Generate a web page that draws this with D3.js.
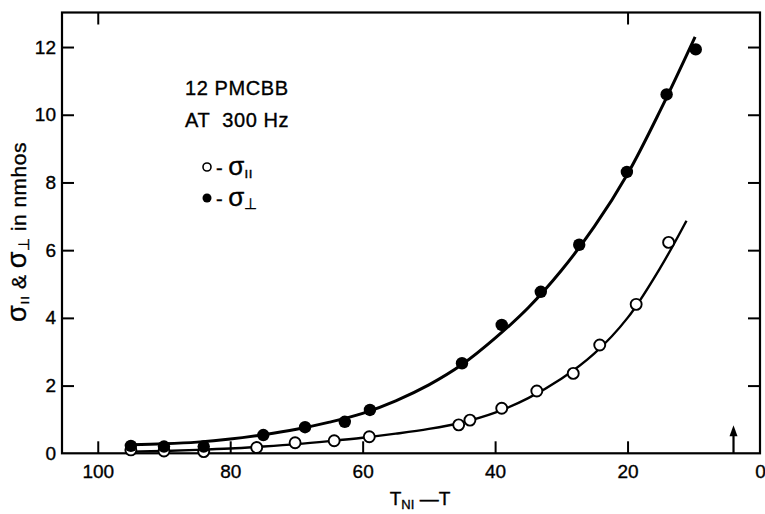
<!DOCTYPE html>
<html>
<head>
<meta charset="utf-8">
<script src="https://cdn.jsdelivr.net/npm/d3@7"></script>
<style>
  html, body { margin: 0; padding: 0; background: #fff; }
  svg text { font-family: "Liberation Sans", Arial, sans-serif; fill: #000; stroke: #000; stroke-width: 0.35px; }
</style>
</head>
<body>
<svg id="chart" width="765" height="514"></svg>
<script>
// ---- data ----
const xTicks = [100, 80, 60, 40, 20, 0];
const yTicks = [0, 2, 4, 6, 8, 10, 12];
const topTicks = [100, 20];

// sigma-perpendicular (filled circles)
const perpT = [95, 90, 84, 75, 68.7, 62.7, 58.9, 45, 39, 33.1, 27.3, 20.1, 14.1, 9.7];
const perpS = [0.22, 0.2, 0.2, 0.54, 0.77, 0.93, 1.28, 2.66, 3.79, 4.77, 6.16, 8.31, 10.6, 11.93];
// sigma-parallel (open circles)
const parT = [95, 90, 84, 76, 70.2, 64.3, 59, 45.5, 43.8, 39, 33.7, 28.2, 24.2, 18.7, 13.8];
const parS = [0.1, 0.07, 0.05, 0.17, 0.31, 0.37, 0.49, 0.84, 0.98, 1.33, 1.84, 2.36, 3.2, 4.4, 6.23];

// hand-drawn fitted curves
const perpFitT = [95, 90, 85, 80, 75, 70, 65, 60, 55, 50, 45, 40, 35, 30, 25, 20, 15, 9.8];
const perpFitS = [0.25, 0.28, 0.33, 0.42, 0.55, 0.71, 0.92, 1.18, 1.55, 2.02, 2.62, 3.4, 4.3, 5.4, 6.7, 8.25, 10.15, 12.3];
const parFitT = [95, 90, 85, 80, 75, 70, 65, 60, 55, 50, 45, 40, 35, 30, 25, 20, 15, 11.1];
const parFitS = [0.05, 0.07, 0.1, 0.14, 0.2, 0.27, 0.36, 0.46, 0.58, 0.72, 0.91, 1.2, 1.63, 2.2, 2.95, 4.0, 5.5, 6.87];

const arrowT = 4;

// ---- layout ----
const svg = d3.select("#chart");
const L = 62, R = 760, T = 12.5, B = 453.3;
const x = d3.scaleLinear().domain([105.4, 0]).range([L, R]);
const y = d3.scaleLinear().domain([0, 13.02]).range([B, T]);

const g = svg.append("g");

// frame
g.append("rect").attr("x", L).attr("y", T).attr("width", R - L).attr("height", B - T)
  .attr("fill", "none").attr("stroke", "#000").attr("stroke-width", 2.2);

// bottom axis (inward ticks)
const xAxis = d3.axisBottom(x).tickValues(xTicks).tickSizeInner(-12).tickSizeOuter(0).tickPadding(18).tickFormat(d3.format("d"));
const gx = g.append("g").attr("transform", `translate(0,${B})`).call(xAxis);
gx.select(".domain").remove();
gx.selectAll("line").attr("stroke-width", 2).filter(d => d === 0).remove();
gx.selectAll("text").attr("font-size", 19).attr("dy", "0.35em");

// top ticks
const gt = g.append("g").attr("transform", `translate(0,${T})`)
  .call(d3.axisTop(x).tickValues(topTicks).tickSizeInner(-12).tickSizeOuter(0).tickFormat(""));
gt.select(".domain").remove();
gt.selectAll("line").attr("stroke-width", 2);

// left axis
const gy = g.append("g").attr("transform", `translate(${L},0)`)
  .call(d3.axisLeft(y).tickValues(yTicks).tickSizeInner(-12).tickSizeOuter(0).tickPadding(6).tickFormat(d3.format("d")));
gy.select(".domain").remove();
gy.selectAll("line").attr("stroke-width", 2).filter(d => d === 0).remove();
gy.selectAll("text").attr("font-size", 19);

// right ticks
const gr = g.append("g").attr("transform", `translate(${R},0)`)
  .call(d3.axisRight(y).tickValues(yTicks.filter(d => d > 0)).tickSizeInner(-12).tickSizeOuter(0).tickFormat(""));
gr.select(".domain").remove();
gr.selectAll("line").attr("stroke-width", 2);

// arrow at T = 4
g.append("line").attr("x1", x(arrowT)).attr("x2", x(arrowT)).attr("y1", y(0)).attr("y2", y(0) - 20)
  .attr("stroke", "#000").attr("stroke-width", 2.2);
g.append("path")
  .attr("d", `M${x(arrowT)},${y(0) - 28} L${x(arrowT) - 4},${y(0) - 17} L${x(arrowT) + 4},${y(0) - 17} Z`)
  .attr("fill", "#000");

// curves
const line = d3.line().x(d => x(d[0])).y(d => y(d[1])).curve(d3.curveCatmullRom.alpha(0.5));
g.append("path").datum(perpFitT.map((t, i) => [t, perpFitS[i]]))
  .attr("d", line).attr("fill", "none").attr("stroke", "#000").attr("stroke-width", 3);
g.append("path").datum(parFitT.map((t, i) => [t, parFitS[i]]))
  .attr("d", line).attr("fill", "none").attr("stroke", "#000").attr("stroke-width", 2.4);

// points
g.selectAll(".par").data(parT.map((t, i) => [t, parS[i]])).join("circle")
  .attr("cx", d => x(d[0])).attr("cy", d => y(d[1])).attr("r", 5.5)
  .attr("fill", "#fff").attr("stroke", "#000").attr("stroke-width", 1.9);
g.selectAll(".perp").data(perpT.map((t, i) => [t, perpS[i]])).join("circle")
  .attr("cx", d => x(d[0])).attr("cy", d => y(d[1])).attr("r", 6.2)
  .attr("fill", "#000");

// annotation
g.append("text").attr("x", 185).attr("y", 95).attr("font-size", 20).attr("letter-spacing", 0.6).text("12 PMCBB");
g.append("text").attr("x", 185).attr("y", 127).attr("font-size", 20).attr("letter-spacing", 0.6).attr("xml:space", "preserve").text("AT  300 Hz");

// legend
g.append("circle").attr("cx", 207).attr("cy", 167).attr("r", 4).attr("fill", "#fff").attr("stroke", "#000").attr("stroke-width", 1.6);
g.append("circle").attr("cx", 207).attr("cy", 198).attr("r", 4.5).attr("fill", "#000");
const l1 = g.append("text").attr("x", 216).attr("y", 175).attr("font-size", 20);
l1.append("tspan").text("- ");
l1.append("tspan").attr("font-size", 26).text("σ");
l1.append("tspan").attr("font-size", 15).attr("dy", 3).text("ıı");
const l2 = g.append("text").attr("x", 216).attr("y", 206).attr("font-size", 20);
l2.append("tspan").text("- ");
l2.append("tspan").attr("font-size", 26).text("σ");
l2.append("tspan").attr("font-size", 15).attr("dy", 3).text("⊥");

// axis titles
const xl = g.append("text").attr("x", 420).attr("y", 505).attr("text-anchor", "middle").attr("font-size", 19);
xl.append("tspan").text("T");
xl.append("tspan").attr("font-size", 13).attr("dy", 4).text("NI");
xl.append("tspan").attr("dy", -4).text(" —T");

const yl = g.append("text").attr("transform", "translate(26,232) rotate(-90)").attr("text-anchor", "middle").attr("font-size", 21).attr("letter-spacing", 0.5);
yl.append("tspan").attr("font-size", 27).text("σ");
yl.append("tspan").attr("font-size", 15).attr("dy", 3).text("ıı");
yl.append("tspan").attr("dy", -3).text(" & ");
yl.append("tspan").attr("font-size", 27).text("σ");
yl.append("tspan").attr("font-size", 15).attr("dy", 3).text("⊥");
yl.append("tspan").attr("dy", -3).text(" in nmhos");
</script>
</body>
</html>
